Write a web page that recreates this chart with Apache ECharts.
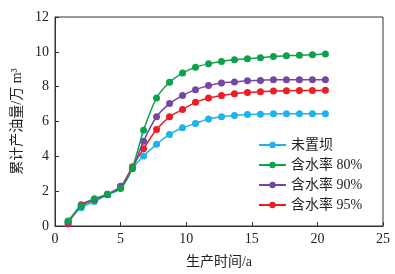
<!DOCTYPE html>
<html><head><meta charset="utf-8">
<script src="https://cdn.jsdelivr.net/npm/echarts@6/dist/echarts.min.js"></script>
<style>html,body{margin:0;padding:0;background:#fff}#c{width:395px;height:274px}</style>
</head><body><div id="c"></div>
<script>
const years = [1,2,3,4,5,5.9,6.75,7.74,8.73,9.72,10.71,11.7,12.69,13.68,14.67,15.66,16.65,17.64,18.63,19.62,20.61];
const seriesNames = ['未置坝','含水率 80%','含水率 90%','含水率 95%'];
const noDam  = [0.22,1.05,1.4,1.8,2.2,3.3,4.02,4.69,5.26,5.64,5.89,6.15,6.27,6.34,6.4,6.42,6.44,6.44,6.45,6.45,6.45];
const wc80   = [0.28,1.15,1.55,1.82,2.15,3.35,5.5,7.35,8.25,8.78,9.12,9.31,9.45,9.54,9.6,9.66,9.73,9.77,9.81,9.83,9.87];
const wc90   = [0.25,1.15,1.5,1.82,2.28,3.3,4.87,6.27,7.03,7.49,7.83,8.06,8.21,8.27,8.34,8.36,8.4,8.4,8.4,8.4,8.4];
const wc95   = [0.12,1.22,1.55,1.8,2.25,3.4,4.44,5.54,6.27,6.69,7.1,7.35,7.49,7.6,7.67,7.71,7.75,7.77,7.78,7.78,7.8];
const colors = ['#1cb4ec','#0ca24c','#7447a6','#ee1d25'];
const xTicks = [0,5,10,15,20,25];
const yTicks = [0,2,4,6,8,10,12];

const font = '"Liberation Serif","Noto Sans CJK SC",serif';
const allVals = [noDam, wc80, wc90, wc95];
const chart = echarts.init(document.getElementById('c'), null, {renderer:'canvas'});
chart.setOption({
  animation:false,
  backgroundColor:'#fff',
  grid:{left:55,right:12,top:17,bottom:47,show:true,borderColor:'#333',borderWidth:1},
  legend:{
    left:253, top:133, orient:'vertical', itemGap:6, itemWidth:27, itemHeight:8,
    textStyle:{fontFamily:font,fontSize:14,color:'#222'},
    data:seriesNames
  },
  xAxis:{
    type:'value',min:0,max:25,interval:5,
    name:'生产时间/a',nameLocation:'middle',nameGap:29,
    nameTextStyle:{fontFamily:font,fontSize:14,color:'#222'},
    axisLine:{lineStyle:{color:'#333',width:1}},
    axisTick:{inside:true,length:4,lineStyle:{color:'#333'}},
    axisLabel:{fontFamily:font,fontSize:14,color:'#222',margin:6,formatter:v=>xTicks.includes(v)?String(v):''},
    splitLine:{show:false}
  },
  yAxis:{
    type:'value',min:0,max:12,interval:2,
    name:'累计产油量/万 m³',nameLocation:'middle',nameGap:21,
    nameTextStyle:{fontFamily:font,fontSize:14,color:'#222'},
    axisLine:{lineStyle:{color:'#333',width:1}},
    axisTick:{inside:true,length:4,lineStyle:{color:'#333'}},
    axisLabel:{fontFamily:font,fontSize:14,color:'#222',margin:6,formatter:v=>yTicks.includes(v)?String(v):''},
    splitLine:{show:false}
  },
  series:seriesNames.map((n,i)=>({
    name:n,type:'line',smooth:0.3,
    data:years.map((x,j)=>[x,allVals[i][j]]),
    symbol:'circle',symbolSize:7,
    itemStyle:{color:colors[i]},
    lineStyle:{color:colors[i],width:1.5},
    z: [2,5,4,3][i]
  }))
});
</script></body></html>
